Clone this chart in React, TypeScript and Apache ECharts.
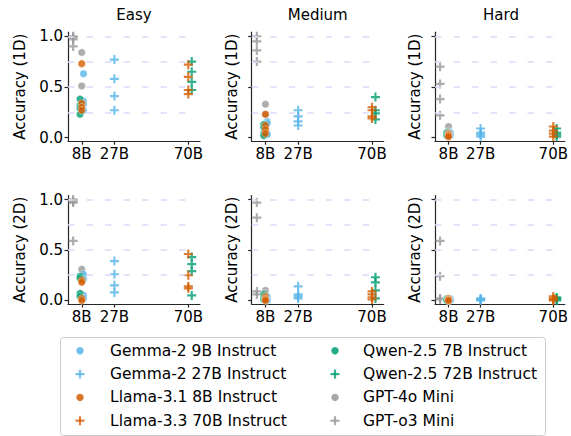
import React, { useEffect, useRef } from "react";
import * as echarts from "echarts";

// ---- data ----
const models = [
  "Gemma-2 9B Instruct",
  "Gemma-2 27B Instruct",
  "Llama-3.1 8B Instruct",
  "Llama-3.3 70B Instruct",
  "Qwen-2.5 7B Instruct",
  "Qwen-2.5 72B Instruct",
  "GPT-4o Mini",
  "GPT-o3 Mini",
];
const modelSize = [9, 27, 8, 70, 7, 72, 8, 3];
const difficulties = ["Easy", "Medium", "Hard"];
const dims = ["1D", "2D"];
const xTickValues = [8, 27, 70];
const xTickLabels = ["8B", "27B", "70B"];
const yTickValues = [0, 0.5, 1.0];
const refLines = [0.25, 0.5, 0.75, 1.0];

// per model: panels [Easy1D, Medium1D, Hard1D, Easy2D, Medium2D, Hard2D], 4 runs each
const gemma9b = [
  [0.63, 0.36, 0.33, 0.27],
  [0.16, 0.14, 0.04, 0.03],
  [0.05, 0.04, 0.03, 0.02],
  [0.26, 0.21, 0.05, 0.02],
  [0.04, 0.03, 0.01, 0.0],
  [0.02, 0.01, 0.01, 0.0],
];
const gemma27b = [
  [0.77, 0.58, 0.41, 0.27],
  [0.27, 0.21, 0.16, 0.12],
  [0.09, 0.05, 0.03, 0.01],
  [0.39, 0.26, 0.15, 0.08],
  [0.14, 0.06, 0.04, 0.02],
  [0.02, 0.01, 0.01, 0.0],
];
const llama8b = [
  [0.73, 0.34, 0.3, 0.27],
  [0.23, 0.12, 0.08, 0.04],
  [0.04, 0.03, 0.02, 0.01],
  [0.2, 0.18, 0.02, 0.0],
  [0.04, 0.02, 0.01, 0.0],
  [0.02, 0.01, 0.0, 0.0],
];
const llama70b = [
  [0.72, 0.6, 0.47, 0.43],
  [0.3, 0.27, 0.21, 0.19],
  [0.11, 0.07, 0.04, 0.01],
  [0.46, 0.25, 0.14, 0.12],
  [0.09, 0.06, 0.03, 0.01],
  [0.04, 0.02, 0.01, 0.0],
];
const qwen7b = [
  [0.38, 0.32, 0.29, 0.23],
  [0.13, 0.1, 0.04, 0.02],
  [0.05, 0.04, 0.03, 0.02],
  [0.24, 0.22, 0.07, 0.04],
  [0.06, 0.04, 0.02, 0.01],
  [0.02, 0.01, 0.01, 0.0],
];
const qwen72b = [
  [0.75, 0.65, 0.55, 0.47],
  [0.4, 0.27, 0.24, 0.18],
  [0.09, 0.05, 0.03, 0.01],
  [0.43, 0.36, 0.29, 0.05],
  [0.23, 0.18, 0.1, 0.02],
  [0.03, 0.02, 0.01, 0.0],
];
const gpt4oMini = [
  [0.84, 0.51, 0.35, 0.3],
  [0.33, 0.23, 0.1, 0.06],
  [0.11, 0.06, 0.03, 0.02],
  [0.31, 0.24, 0.06, 0.02],
  [0.1, 0.07, 0.04, 0.02],
  [0.02, 0.01, 0.01, 0.0],
];
const gpto3Mini = [
  [1.0, 0.99, 0.97, 0.9],
  [1.0, 0.95, 0.86, 0.75],
  [0.7, 0.53, 0.38, 0.22],
  [1.0, 0.98, 0.97, 0.59],
  [0.97, 0.82, 0.09, 0.06],
  [0.59, 0.24, 0.02, 0.01],
];
const modelData = [gemma9b, gemma27b, llama8b, llama70b, qwen7b, qwen72b, gpt4oMini, gpto3Mini];

// ---- styles ----
const BLUE = "#56B4E9";
const ORANGE = "#D55E00";
const GREEN = "#009E73";
const GRAY = "#999999";
const modelColors = [BLUE, BLUE, ORANGE, ORANGE, GREEN, GREEN, GRAY, GRAY];
const modelPlus = [false, true, false, true, false, true, false, true];
const modelZ = [3, 3, 4, 4, 3.5, 3.5, 2, 2];
const PLUS_PATH = "path://M3.8,0H6.2V3.8H10V6.2H6.2V10H3.8V6.2H0V3.8H3.8Z";
const FONT = "'DejaVu Sans', sans-serif";
const INK = "#262626";

export default function App() {
  const ref = useRef<HTMLDivElement>(null);
  useEffect(() => {
    const chart = echarts.init(ref.current!, null, { renderer: "svg" });
    const gridLefts = [68, 251.7, 435];
    const gridTops = [32.2, 195.5];
    const gridHeights = [109, 108.5];
    const gridWidth = 132;

    const grids: any[] = [];
    const xAxes: any[] = [];
    const yAxes: any[] = [];
    const series: any[] = [];
    const graphics: any[] = [];

    for (let r = 0; r < 2; r++) {
      for (let c = 0; c < 3; c++) {
        const p = r * 3 + c;
        grids.push({ left: gridLefts[c], top: gridTops[r], width: gridWidth, height: gridHeights[r] });
        xAxes.push({
          gridIndex: p,
          type: "value",
          min: 0,
          max: 76.8,
          axisLine: { onZero: false, lineStyle: { color: INK, width: 1.2 } },
          axisTick: { customValues: xTickValues, length: 3.5, lineStyle: { color: INK, width: 1.2 } },
          axisLabel: {
            customValues: xTickValues,
            formatter: (v: number) => xTickLabels[xTickValues.indexOf(v)] ?? "",
            fontSize: 15,
            color: "#000",
            margin: 5,
            fontFamily: FONT,
          },
          splitLine: { show: false },
        });
        yAxes.push({
          gridIndex: p,
          type: "value",
          min: -0.035,
          max: 1.04,
          name: `Accuracy (${dims[r]})`,
          nameLocation: "middle",
          nameGap: c === 0 ? 41 : 12.5,
          nameTextStyle: { fontSize: 15, color: "#000", fontFamily: FONT },
          axisLine: { show: true, onZero: false, lineStyle: { color: INK, width: 1.2 } },
          axisTick: { show: true, customValues: yTickValues, length: 3.5, lineStyle: { color: INK, width: 1.2 } },
          axisLabel: {
            show: c === 0,
            customValues: yTickValues,
            formatter: (v: number) => v.toFixed(1),
            fontSize: 15,
            color: "#000",
            margin: 5,
            fontFamily: FONT,
          },
          splitLine: { show: false },
        });
        series.push({
          type: "scatter",
          xAxisIndex: p,
          yAxisIndex: p,
          data: [],
          silent: true,
          z: 1,
          markLine: {
            silent: true,
            symbol: "none",
            label: { show: false },
            lineStyle: { type: [6.5, 12], color: "#dadaf7", width: 1.5 },
            data: refLines.map((y) => [{ coord: [0, y] }, { coord: [70, y] }]),
          },
        });
        models.forEach((m, i) => {
          series.push({
            type: "scatter",
            name: m,
            xAxisIndex: p,
            yAxisIndex: p,
            z: modelZ[i],
            data: modelData[i][p].map((v) => [modelSize[i], v]),
            symbol: modelPlus[i] ? PLUS_PATH : "circle",
            symbolSize: modelPlus[i] ? 9 : 7.5,
            itemStyle: modelPlus[i]
              ? { color: modelColors[i], opacity: 0.8 }
              : { color: modelColors[i], opacity: 0.8, borderColor: "#fff", borderWidth: 0.5 },
          });
        });
      }
    }

    // column titles
    difficulties.forEach((d, c) => {
      graphics.push({
        type: "text",
        x: gridLefts[c] + gridWidth / 2,
        y: 15,
        style: { text: d, fontSize: 15, fill: "#000", align: "center", verticalAlign: "middle", fontFamily: FONT },
      });
    });

    // legend
    graphics.push({
      type: "rect",
      shape: { x: 60.5, y: 337.5, width: 485, height: 98, r: 3 },
      style: { fill: "rgba(255,255,255,0.8)", stroke: "#cccccc", lineWidth: 1 },
    });
    models.forEach((m, i) => {
      const col = Math.floor(i / 4);
      const row = i % 4;
      const mx = col === 0 ? 80 : 335;
      const tx = col === 0 ? 110 : 363;
      const my = 350.8 + row * 23.3;
      if (modelPlus[i]) {
        graphics.push({
          type: "group",
          children: [
            { type: "rect", shape: { x: mx - 4.5, y: my - 1.1, width: 9, height: 2.2 }, style: { fill: modelColors[i], opacity: 0.8 } },
            { type: "rect", shape: { x: mx - 1.1, y: my - 4.5, width: 2.2, height: 9 }, style: { fill: modelColors[i], opacity: 0.8 } },
          ],
        });
      } else {
        graphics.push({
          type: "circle",
          shape: { cx: mx, cy: my, r: 3.7 },
          style: { fill: modelColors[i], opacity: 0.85 },
        });
      }
      graphics.push({
        type: "text",
        x: tx,
        y: my,
        style: { text: m, fontSize: 15.5, fill: "#000", verticalAlign: "middle", fontFamily: FONT },
      });
    });

    chart.setOption({
      animation: false,
      backgroundColor: "#fff",
      grid: grids,
      xAxis: xAxes,
      yAxis: yAxes,
      series,
      graphic: graphics,
    });
    return () => chart.dispose();
  }, []);
  return <div ref={ref} style={{ width: 571, height: 436, position: "absolute", left: 0, top: 0 }} />;
}
